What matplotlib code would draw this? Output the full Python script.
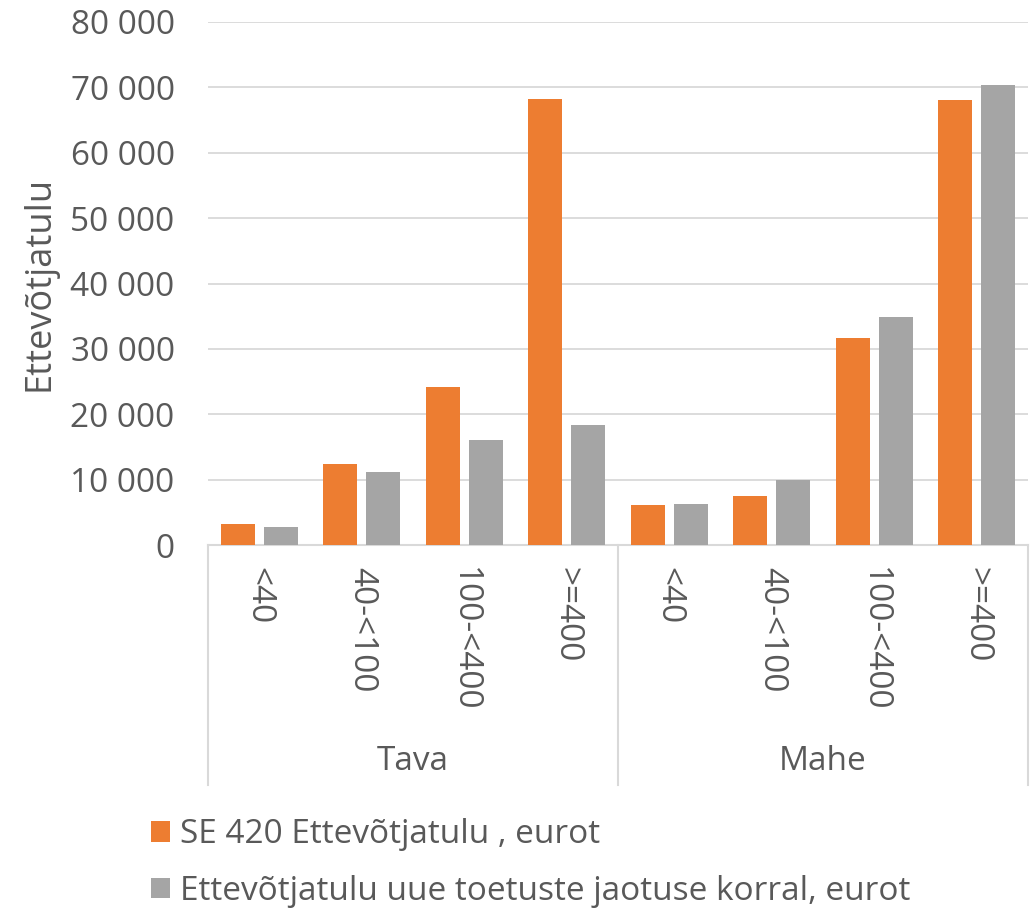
import matplotlib
matplotlib.use("Agg")
import matplotlib.pyplot as plt
import numpy as np

plt.rcParams['font.family'] = ['Open Sans', 'DejaVu Sans']

# andmed
groups = ['Tava', 'Mahe']
classes = ['<40', '40-<100', '100-<400', '>=400']
series_names = ['SE 420 Ettevõtjatulu , eurot',
                'Ettevõtjatulu uue toetuste jaotuse korral, eurot']
se420 = [3200, 12400, 24100, 68200, 6100, 7500, 31600, 68100]
uus = [2700, 11100, 16000, 18400, 6300, 9900, 34900, 70400]

orange = '#ED7D31'
gray = '#A5A5A5'
txt = '#595959'
linec = '#D9D9D9'

fig = plt.figure(figsize=(10.33, 9.08), dpi=100)
ax = fig.add_axes([208/1033, 1-545/908, 820/1033, 523/908])

n = len(se420)
x = np.arange(n) + 0.5
w = 0.33
b1 = ax.bar(x - 0.21, se420, w, color=orange, label=series_names[0], zorder=3)
b2 = ax.bar(x + 0.21, uus, w, color=gray, label=series_names[1], zorder=3)

ax.set_xlim(0, n)
ax.set_ylim(0, 80000)
ax.set_yticks(np.arange(0, 80001, 10000))
ax.set_yticklabels([f'{v:,}'.replace(',', ' ') for v in range(0, 80001, 10000)],
                   fontsize=24, color=txt)
ax.yaxis.grid(True, color=linec, lw=1.3, zorder=0)
ax.tick_params(axis='y', length=0, pad=24)
ax.set_ylabel('Ettevõtjatulu', fontsize=26, color=txt)
ax.yaxis.set_label_coords(-150/820, 0.5)

for s in ['top', 'right', 'left']:
    ax.spines[s].set_visible(False)
ax.spines['bottom'].set_color(linec)
ax.spines['bottom'].set_linewidth(1.5)

# kategooria sildid
ax.set_xticks(x)
ax.set_xticklabels(classes * len(groups), rotation=270, fontsize=24, color=txt,
                   va='top', ha='center')
ax.tick_params(axis='x', length=0, pad=16)

# grupi eraldajad ja nimed
trans = ax.get_xaxis_transform()
for k in range(len(groups) + 1):
    ax.plot([k * 4, k * 4], [0, -240/523], transform=trans, color=linec,
            lw=1.5, clip_on=False)
for k, g in enumerate(groups):
    ax.text(k * 4 + 2, -217/523, g, transform=trans, ha='center', va='center',
            fontsize=24, color=txt)

fig.legend(handles=[b1, b2], loc='upper left', bbox_to_anchor=(138/1033, 1-805/908),
           frameon=False, fontsize=24, labelcolor=txt, handlelength=0.55,
           handleheight=0.55, handletextpad=0.3, labelspacing=0.7,
           borderaxespad=0)

fig.savefig('out.png', dpi=100)
